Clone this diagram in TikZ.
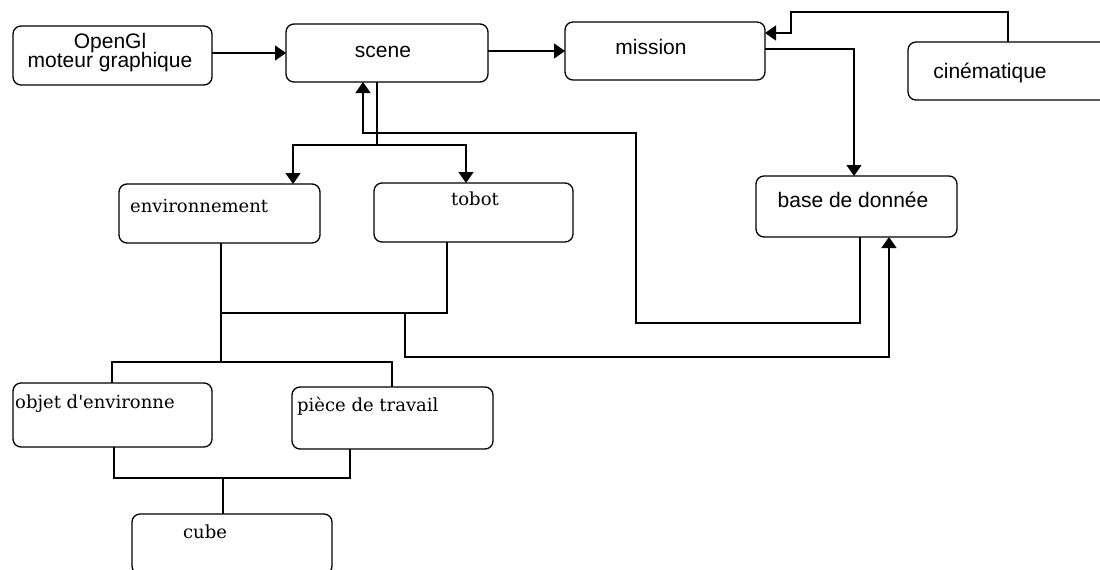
\documentclass[tikz,border=0pt]{standalone}
\usepackage{fontspec}
\usetikzlibrary{arrows.meta}
\newfontfamily\sanslbl{Liberation Sans}
\newfontfamily\seriflbl{DejaVu Serif}
\begin{document}
\begin{tikzpicture}[x=1pt,y=-1pt,
  box/.style={draw, line width=1.3pt, rounded corners=8pt, inner sep=0pt, outer sep=0pt},
  sanstext/.style={font=\sanslbl\fontsize{21}{24}\selectfont, inner sep=0pt, anchor=base},
  seriftext/.style={font=\seriflbl\fontsize{18}{21}\selectfont, inner sep=0pt},
  link/.style={line width=1.3pt},
  arr/.style={line width=1.3pt, -{Triangle[length=11pt,width=15pt]}}]
\useasboundingbox (0,0) rectangle (1100,570);

% boxes
\node[box, minimum width=199pt, minimum height=59pt] (ogl) at (112.5,55.5) {};
\node[box, minimum width=202pt, minimum height=58pt] (scene) at (387,53) {};
\node[box, minimum width=200pt, minimum height=58pt] (mission) at (665,51) {};
\node[box, minimum width=200pt, minimum height=58pt] (cine) at (1008,71) {};
\node[box, minimum width=201pt, minimum height=61pt] (base) at (856.5,206.5) {};
\node[box, minimum width=201pt, minimum height=59pt] (env) at (219.5,213.5) {};
\node[box, minimum width=199pt, minimum height=59pt] (robot) at (473.5,212.5) {};
\node[box, minimum width=199pt, minimum height=64pt] (objet) at (112.5,415) {};
\node[box, minimum width=201pt, minimum height=62pt] (piece) at (392.5,418) {};
\node[box, minimum width=200pt, minimum height=60pt] (cube) at (232,544) {};

% labels
\node[sanstext] (ogl-t1) at (110,48) {OpenGl};
\node[sanstext] (ogl-t2) at (110,67) {moteur graphique};
\node[sanstext] (scene-t) at (383,57) {scene};
\node[sanstext] (mission-t) at (651,54) {mission};
\node[sanstext] (cine-t) at (990,78) {cinématique};
\node[sanstext] (base-t) at (853,207) {base de donnée};
\node[seriftext, anchor=base west] (env-t) at (130,212) {environnement};
\node[seriftext, anchor=base] (robot-t) at (475,205) {tobot};
\node[seriftext, anchor=base west] (objet-t) at (15,408) {objet d'environne};
\node[seriftext, anchor=base west] (piece-t) at (297,411) {pièce de travail};
\node[seriftext, anchor=base] (cube-t) at (205,538) {cube};

% routing points
\coordinate (c1) at (1008,12);
\coordinate (c2) at (791,33);
\coordinate (m1) at (854,49);
\coordinate (s1) at (377,145);
\coordinate (e1) at (293,145);
\coordinate (r1) at (466,145);
\coordinate (b1) at (860,323);
\coordinate (b2) at (636,133);
\coordinate (b3) at (363,133);
\coordinate (j1) at (221,313);
\coordinate (j2) at (447,313);
\coordinate (j3) at (221,362);
\coordinate (k1) at (405,313);
\coordinate (k2) at (889,357);
\coordinate (o1) at (112,362);
\coordinate (p1) at (392,362);
\coordinate (q1) at (114,478);
\coordinate (q2) at (350,478);
\coordinate (q3) at (223,478);

% connectors
\draw[arr] (scene.west -| ogl.east) -- (scene.west);
\draw[arr] (mission.west -| scene.east) -- (mission.west);
\draw[arr] (c1 |- cine.north) -- (c1) -| (c2) -- (c2 -| mission.east);
\draw[arr] (m1 -| mission.east) -- (m1) -- (m1 |- base.north);
\draw[link] (s1 |- scene.south) -- (s1);
\draw[arr] (s1) -- (e1) -- (e1 |- env.north);
\draw[arr] (s1) -- (r1) -- (r1 |- robot.north);
\draw[arr] (b1 |- base.south) -- (b1) -| (b2) -- (b3) -- (b3 |- scene.south);
\draw[link] (j2 |- robot.south) -- (j2) -- (j1);
\draw[link] (j1 |- env.south) -- (j3);
\draw[arr] (k1) |- (k2) -- (k2 |- base.south);
\draw[link] (o1 |- objet.north) -- (o1) -- (p1) -- (p1 |- piece.north);
\draw[link] (q1 |- objet.south) -- (q1) -- (q2) -- (q2 |- piece.south);
\draw[link] (q3) -- (q3 |- cube.north);
\end{tikzpicture}
\end{document}
